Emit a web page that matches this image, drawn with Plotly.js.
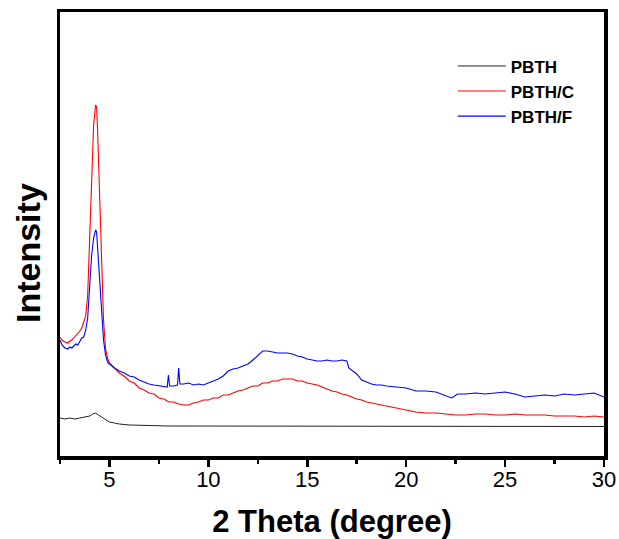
<!DOCTYPE html>
<html>
<head>
<meta charset="utf-8">
<script src="https://cdn.plot.ly/plotly-3.0.1.min.js"></script>
<style>html,body{margin:0;padding:0;background:#fff;}#chart{width:619px;height:539px;}</style>
</head>
<body>
<div id="chart"></div>
<script>
// Data (intensity in arbitrary units)
const seriesNames = ["PBTH", "PBTH/C", "PBTH/F"];
const xTicks = [5, 10, 15, 20, 25, 30];

const blackX = [2.5,2.75,3.0,3.25,3.5,3.75,4.0,4.15,4.3,4.45,4.6,4.8,5.0,5.25,5.5,6.0,6.5,7.0,8.0,9.0,10.0,12.0,14.0,16.0,18.0,20.0,22.0,24.0,26.0,28.0,30.0];
const blackY = [37,36,37,36,37,38,39,41,42,40,38,36,33,32,31,30,30,29.5,29,29,29,29,29,28.5,29,28.5,28.5,28.5,28.5,28.5,28.5];

const redX = [2.5,2.6,2.75,2.9,3.0,3.1,3.2,3.3,3.4,3.5,3.6,3.7,3.8,3.9,4.0,4.1,4.2,4.3,4.35,4.4,4.5,4.6,4.7,4.8,4.9,5.0,5.2,5.5,5.8,6.0,6.25,6.5,6.75,7.0,7.25,7.5,7.75,8.0,8.25,8.5,8.75,9.0,9.25,9.5,9.75,10.0,10.25,10.5,10.75,11.0,11.25,11.5,11.75,12.0,12.25,12.5,12.75,13.0,13.25,13.5,13.75,14.0,14.25,14.5,14.75,15.0,15.25,15.5,15.75,16.0,16.25,16.5,16.75,17.0,17.25,17.5,17.75,18.0,18.25,18.5,18.75,19.0,19.5,20.0,20.5,21.0,21.5,22.0,22.5,23.0,23.5,24.0,24.5,25.0,25.5,26.0,26.5,27.0,27.5,28.0,28.5,29.0,29.5,30.0];
const redY = [118,115,113,112,114,115,117,119,121,124,127,132,139,160,220,280,330,350,348,325,260,190,135,107,97,92,88,82,78,74,72,67,65,62,61,57,56,53,53,51,50,50,52,53,55,55,57,57,60,60,62,64,65,67,69,69,72,72,74,74,76,76,76,74,74,72,71,70,68,66,64,63,61,60,58,56,55,53,52,51,50,49,47,45,43,42,42,41,40,40,41,41,40,40,41,40,40,40,39,39,39,38,39,38];

const blueX = [2.5,2.6,2.75,2.9,3.0,3.1,3.2,3.3,3.4,3.5,3.6,3.7,3.8,3.9,4.0,4.1,4.2,4.3,4.35,4.4,4.5,4.6,4.7,4.8,4.9,5.0,5.25,5.5,5.75,6.0,6.25,6.5,6.75,7.0,7.25,7.5,7.75,7.92,7.98,8.04,8.25,8.44,8.5,8.56,8.75,9.0,9.25,9.5,9.75,10.0,10.25,10.5,10.75,11.0,11.25,11.5,11.75,12.0,12.25,12.5,12.75,13.0,13.25,13.5,13.75,14.0,14.25,14.5,14.75,15.0,15.25,15.5,15.75,16.0,16.25,16.5,16.75,17.0,17.1,17.25,17.5,17.75,18.0,18.25,18.5,18.75,19.0,19.5,20.0,20.5,21.0,21.5,22.0,22.3,22.6,23.0,23.5,24.0,24.5,25.0,25.5,26.0,26.5,27.0,27.5,28.0,28.5,29.0,29.5,30.0];
const blueY = [115,110,107,106,108,107,109,111,110,113,117,118,125,137,172,200,217,225,223,207,170,137,115,100,93,91,87,84,82,79,78,75,73,71,70,69,68,68,80,69,69,70,87,71,71,72,70,71,70,72,74,76,79,84,86,87,89,91,95,100,104,104,103,102,102,102,101,99,98,96,95,94,94,95,94,94,95,94,87,85,81,75,73,71,70,70,69,68,67,64,64,63,59,57,61,61,62,61,62,63,61,58,59,60,59,61,60,61,62,58];

const FONT = "Liberation Sans, Arial, sans-serif";

const traces = [
  {x: blackX, y: blackY, name: seriesNames[0], legendgroup: "a", type: "scatter", mode: "lines", line: {color: "#222222", width: 1}},
  {x: redX, y: redY, name: seriesNames[1], legendgroup: "b", type: "scatter", mode: "lines", line: {color: "#ff0000", width: 1.1}},
  {x: blueX, y: blueY, name: seriesNames[2], legendgroup: "c", type: "scatter", mode: "lines", line: {color: "#0000ff", width: 1.1}}
];

const layout = {
  width: 619, height: 539,
  margin: {l: 60, r: 15, t: 12, b: 83, pad: 0},
  paper_bgcolor: "#ffffff", plot_bgcolor: "#ffffff",
  font: {family: FONT, color: "#000000"},
  showlegend: true,
  legend: {x: 0.722, y: 0.918, xanchor: "left", yanchor: "top", bgcolor: "rgba(0,0,0,0)",
           font: {family: FONT, size: 17, weight: "bold", color: "#000"}, tracegroupgap: 0, itemwidth: 48},
  xaxis: {
    range: [2.5, 30], tickmode: "array", tickvals: xTicks, ticktext: xTicks.map(String),
    ticks: "outside", ticklen: 7, tickwidth: 2.5, tickcolor: "#000",
    minor: {dtick: 2.5, tick0: 0, ticks: "outside", ticklen: 4, tickwidth: 2.5, tickcolor: "#000"},
    showline: true, linewidth: 3.5, linecolor: "#000", mirror: true,
    showgrid: false, zeroline: false, ticklabelstandoff: -6,
    tickfont: {family: FONT, size: 22, color: "#000"},
    title: {text: "<b>2 Theta (degree)</b>", font: {family: FONT, size: 31, color: "#000"}, standoff: 23}
  },
  yaxis: {
    range: [-1, 443], showticklabels: false, ticks: "",
    showline: true, linewidth: 3.5, linecolor: "#000", mirror: true,
    showgrid: false, zeroline: false
  },
  annotations: [{
    text: "<b>Intensity</b>", xref: "paper", yref: "paper", x: -0.06, y: 0.458,
    xanchor: "center", yanchor: "middle", textangle: -90, showarrow: false,
    font: {family: FONT, size: 34, color: "#000"}
  }]
};

Plotly.newPlot("chart", traces, layout, {displayModeBar: false, staticPlot: true});
</script>
</body>
</html>
